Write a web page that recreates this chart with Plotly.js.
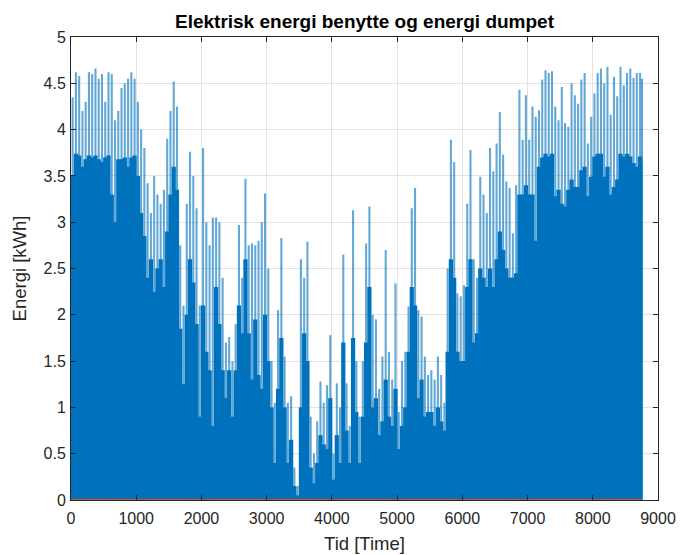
<!DOCTYPE html>
<html>
<head>
<meta charset="utf-8">
<script src="https://cdn.plot.ly/plotly-3.0.1.min.js"></script>
<style>
  html, body { margin: 0; padding: 0; background: #ffffff; }
  #chart { width: 681px; height: 555px; }
</style>
</head>
<body>
<div id="chart"></div>
<script>
// Hourly electric energy over one year, summarised in 50-hour slots:
// usedPeak = highest hourly value in the slot, usedBase = level the hourly bars fill solidly.
const HOURS_PER_YEAR = 8760;
const slotHours = 50;

const usedPeak = [
  4.35, 4.62, 4.58, 4.20, 4.30, 4.62, 4.60, 4.66, 4.55, 4.60,
  4.30, 4.62, 4.60, 4.10, 4.20, 4.45, 4.50, 4.55, 4.62, 4.55,
  4.30, 4.00, 3.80, 3.42, 3.10, 3.50, 3.30, 3.20, 3.35, 3.90,
  4.20, 4.52, 4.25, 2.75, 2.10, 3.20, 3.76, 3.50, 3.15, 2.10,
  3.80, 3.00, 2.75, 3.05, 3.05, 3.00, 2.40, 1.70, 1.76, 1.50,
  1.90, 2.97, 2.40, 3.47, 2.75, 2.77, 2.75, 2.80, 3.00, 3.31,
  2.50, 1.50, 1.05, 2.05, 2.83, 1.55, 1.05, 1.12, 0.35, 0.15,
  2.60, 2.40, 2.79, 0.90, 0.50, 0.85, 1.28, 1.05, 1.24, 1.78,
  0.50, 1.26, 1.00, 2.65, 1.26, 0.80, 3.13, 1.50, 0.90, 1.50,
  2.77, 3.17, 2.00, 1.95, 1.20, 1.55, 2.70, 1.60, 1.30, 2.34,
  0.95, 1.50, 1.60, 2.09, 3.15, 3.37, 2.05, 1.98, 1.55, 1.35,
  1.40, 1.30, 1.55, 1.35, 1.05, 2.50, 3.89, 3.65, 2.23, 2.20,
  2.32, 3.20, 3.78, 2.60, 2.40, 3.49, 3.30, 3.10, 3.80, 3.55,
  3.85, 4.19, 3.73, 3.44, 3.37, 2.88, 3.40, 4.43, 3.89, 4.37,
  3.89, 4.25, 4.14, 4.21, 4.54, 4.64, 4.61, 4.63, 4.25, 4.10,
  4.46, 4.07, 4.03, 4.50, 4.37, 4.28, 4.54, 4.61, 3.85, 4.14,
  4.39, 4.61, 4.66, 4.50, 4.68, 4.16, 4.57, 4.36, 4.68, 4.48,
  4.61, 4.66, 4.56, 4.61, 4.61, 4.55
];

const usedBase = [
  3.50, 3.74, 3.72, 3.60, 3.68, 3.72, 3.70, 3.72, 3.68, 3.65,
  3.70, 3.72, 3.30, 3.00, 3.68, 3.68, 3.70, 3.60, 3.70, 3.72,
  3.50, 3.10, 2.85, 2.40, 2.60, 2.25, 2.50, 2.60, 2.30, 2.90,
  3.30, 3.60, 3.35, 1.85, 1.25, 2.00, 2.60, 2.35, 1.90, 0.90,
  2.10, 1.60, 1.40, 0.80, 2.30, 1.90, 1.40, 1.10, 1.40, 0.90,
  1.40, 2.10, 1.80, 2.60, 1.80, 1.30, 1.95, 1.35, 1.20, 2.00,
  1.50, 1.00, 0.40, 1.20, 1.75, 1.00, 0.40, 0.65, 0.15, 0.05,
  1.00, 1.80, 1.50, 0.35, 0.18, 0.40, 0.70, 0.60, 0.55, 1.10,
  0.22, 0.70, 0.40, 1.70, 0.75, 0.40, 1.75, 0.95, 0.40, 0.90,
  1.70, 2.30, 1.00, 1.10, 0.70, 0.85, 1.30, 0.90, 0.80, 1.20,
  0.55, 0.80, 1.00, 1.60, 2.30, 2.10, 1.10, 1.30, 0.90, 0.95,
  0.95, 0.80, 1.00, 0.85, 0.75, 1.60, 2.60, 2.40, 1.60, 1.50,
  1.50, 2.30, 2.60, 1.70, 1.80, 2.50, 2.40, 2.30, 2.50, 2.30,
  2.60, 2.90, 2.70, 2.50, 2.40, 2.40, 2.45, 3.30, 3.30, 3.40,
  3.30, 3.30, 2.80, 3.60, 3.70, 3.74, 3.71, 3.74, 3.28, 3.35,
  3.20, 3.17, 3.35, 3.46, 3.38, 3.38, 3.56, 3.60, 3.28, 3.49,
  3.71, 3.74, 3.74, 3.49, 3.60, 3.30, 3.38, 3.46, 3.74, 3.71,
  3.74, 3.71, 3.64, 3.60, 3.71, 3.65
];

// Energy dumped stays at zero over the whole year.
const dumpedHours = [0, 8760];
const dumpedEnergy = [0, 0];

const xTicks = [0, 1000, 2000, 3000, 4000, 5000, 6000, 7000, 8000, 9000];
const yTicks = [0, 0.5, 1, 1.5, 2, 2.5, 3, 3.5, 4, 4.5, 5];

// Slot geometry on the hour axis
const slotStart = usedPeak.map((_, i) => i * slotHours);
const slotWidth = slotStart.map(s => Math.min(slotHours, HOURS_PER_YEAR - s));
const slotCenter = slotStart.map((s, i) => s + slotWidth[i] / 2);
// Solid bars overlap their neighbours slightly so no hairline seams show
const solidWidth = slotWidth.map(w => w * 1.3);

const FONT = 'Liberation Sans, Arial, Helvetica, sans-serif';
const INK = '#262626';

const traces = [
  {
    type: 'bar',
    name: 'Topp',
    x: slotCenter,
    y: usedPeak,
    width: 32,
    marker: { color: 'rgba(0,114,189,0.62)', line: { width: 0 } },
    hoverinfo: 'skip'
  },
  {
    type: 'bar',
    name: 'Energi benyttet',
    x: slotCenter,
    y: usedBase,
    width: solidWidth,
    marker: { color: '#0072BD', line: { width: 0 } },
    hoverinfo: 'skip'
  },
  {
    type: 'scatter',
    mode: 'lines',
    name: 'Energi dumpet',
    x: dumpedHours,
    y: dumpedEnergy,
    line: { color: '#D95319', width: 2 },
    hoverinfo: 'skip'
  }
];

const axisCommon = {
  showgrid: true,
  gridcolor: '#e2e2e2',
  gridwidth: 1,
  zeroline: false,
  showline: true,
  linecolor: INK,
  linewidth: 1,
  mirror: 'ticks',
  ticks: 'inside',
  ticklen: 5,
  tickwidth: 1,
  tickcolor: INK,
  tickfont: { family: FONT, size: 16, color: INK },
  tickmode: 'array'
};

const layout = {
  width: 681,
  height: 555,
  margin: { l: 71, r: 23, t: 37, b: 55 },
  paper_bgcolor: '#ffffff',
  plot_bgcolor: '#ffffff',
  showlegend: false,
  barmode: 'overlay',
  title: {
    text: 'Elektrisk energi benytte og energi dumpet',
    font: { family: FONT, size: 19, color: '#000000', weight: 'bold' },
    x: 0.5,
    xref: 'paper',
    xanchor: 'center',
    y: 1 - 21.5 / 555,
    yref: 'container',
    yanchor: 'middle'
  },
  xaxis: Object.assign({}, axisCommon, {
    range: [0, 9000],
    tickvals: xTicks,
    ticktext: xTicks.map(String),
    ticklabelstandoff: 4,
    title: { text: 'Tid [Time]', font: { family: FONT, size: 18.5, color: INK }, standoff: 10 }
  }),
  yaxis: Object.assign({}, axisCommon, {
    range: [0, 5],
    tickvals: yTicks,
    ticktext: yTicks.map(String),
    ticklabelstandoff: 1,
    title: { text: 'Energi [kWh]', font: { family: FONT, size: 18.5, color: INK }, standoff: 12 }
  })
};

Plotly.newPlot('chart', traces, layout, { displayModeBar: false, staticPlot: true });
</script>
</body>
</html>
